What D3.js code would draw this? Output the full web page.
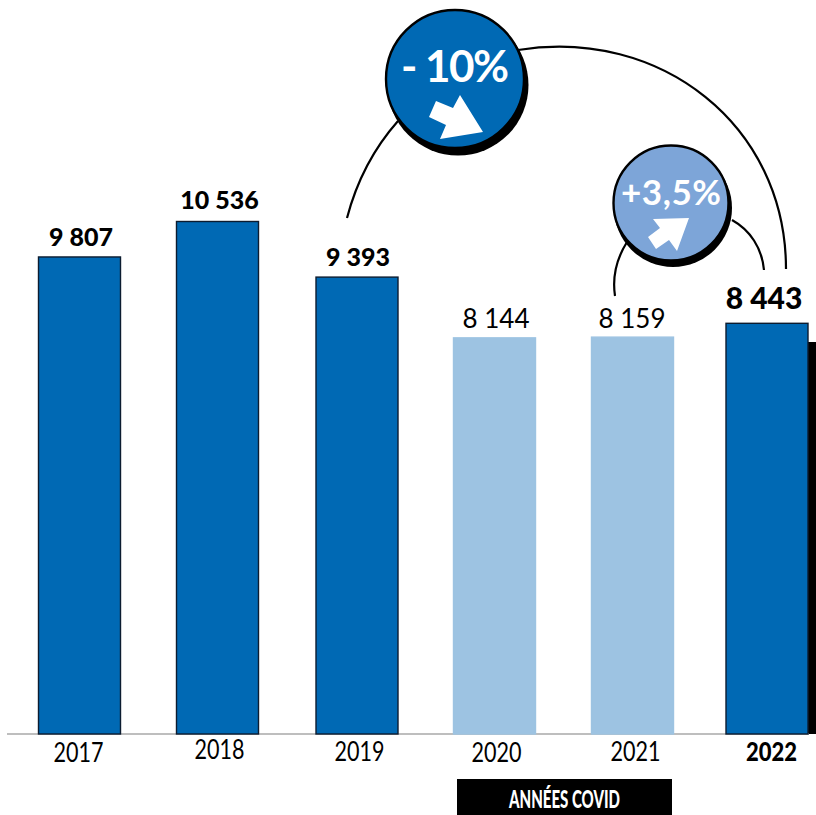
<!DOCTYPE html>
<html lang="fr">
<head>
<meta charset="utf-8">
<title>Évolution 2017-2022</title>
<script src="https://cdn.jsdelivr.net/npm/d3@7"></script>
<style>
  html, body { margin: 0; padding: 0; background: #fff; }
  svg { display: block; }
  text { font-family: Lato, "Open Sans", sans-serif; }
</style>
</head>
<body>
<svg id="chart" width="816" height="815"></svg>
<script>
const years = ["2017", "2018", "2019", "2020", "2021", "2022"];
const totals = [9807, 10536, 9393, 8144, 8159, 8443];
const covidYears = ["2020", "2021"];
const highlightYear = "2022";
const boldValueYears = ["2017", "2018", "2019", "2022"];
const covidLabel = "ANNÉES COVID";
const declineLabel = "- 10%";
const reboundLabel = "+3,5%";

const DARK = "#0069b4", LIGHT = "#9dc3e2", SOFT = "#7da5d8", INK = "#000";
const baseline = 734;
const barWidth = 82;

const svg = d3.select("#chart");
const y = d3.scaleLinear().domain([0, 10536]).range([baseline, 221.5]);

// Bars are hand-spaced on the page, so the band is an ordinal lookup of left edges.
const x = d3.scaleOrdinal().domain(years).range([38.5, 176.5, 316, 453.5, 591.5, 726]);
const tickX = d3.scaleOrdinal().domain(years).range([78, 219, 359, 496, 635, 771]);
const tickBaseline = d3.scaleOrdinal().domain(years).range([762, 759, 761, 762, 761, 761]);
const valueX = d3.scaleOrdinal().domain(years).range([81, 219.5, 358, 496, 632, 764]);
const valueLift = d3.scaleOrdinal().domain(years).range([11, 13, 11, 10, 9, 14]);
const format = v => d3.format(",")(v).replace(",", " ");

const rows = years.map((year, i) => ({ year, value: totals[i] }));

// Black block that sits behind the last bar and runs off the page.
svg.append("rect")
  .attr("x", x(highlightYear) + barWidth)
  .attr("y", 342)
  .attr("width", 816 - x(highlightYear) - barWidth)
  .attr("height", baseline - 342)
  .attr("fill", INK);

svg.append("line")
  .attr("x1", 7).attr("x2", 809)
  .attr("y1", baseline).attr("y2", baseline)
  .attr("stroke", "#a9a9a9").attr("stroke-width", 1.6);

svg.append("g").selectAll("rect").data(rows).join("rect")
  .attr("x", d => x(d.year))
  .attr("y", d => y(d.value))
  .attr("width", barWidth)
  .attr("height", d => baseline - y(d.value))
  .attr("fill", d => covidYears.includes(d.year) ? LIGHT : DARK)
  .attr("stroke", d => covidYears.includes(d.year) ? LIGHT : "#0c1c30")
  .attr("stroke-width", 1.4);

// Value labels above the bars.
svg.append("g").selectAll("text").data(rows).join("text")
  .attr("x", d => valueX(d.year))
  .attr("y", d => y(d.value) - valueLift(d.year))
  .attr("text-anchor", "middle")
  .attr("font-size", d => d.year === highlightYear ? 30 : boldValueYears.includes(d.year) ? 25 : 26)
  .attr("font-weight", d => boldValueYears.includes(d.year) ? 900 : 400)
  .attr("fill", "#000")
  .text(d => format(d.value));

// Year labels come from a bottom axis, with its domain line removed.
const axis = svg.append("g")
  .call(d3.axisBottom(tickX).tickSize(0).tickPadding(0));
axis.select(".domain").remove();
axis.attr("font-family", null).attr("font-size", null);
axis.selectAll(".tick text")
  .attr("y", d => tickBaseline(d))
  .attr("dy", 0)
  .attr("font-size", 26)
  .attr("font-weight", d => d === highlightYear ? 900 : 400)
  .attr("fill", "#000")
  .attr("textLength", d => d === highlightYear ? 51 : 50)
  .attr("lengthAdjust", "spacingAndGlyphs");

// Caption under the two pandemic years.
svg.append("rect")
  .attr("x", 457).attr("y", 779).attr("width", 215).attr("height", 36)
  .attr("fill", INK);
svg.append("text")
  .attr("x", 564.5).attr("y", 808)
  .attr("text-anchor", "middle")
  .attr("font-size", 25)
  .attr("font-weight", 900)
  .attr("fill", "#fff")
  .attr("textLength", 111)
  .attr("lengthAdjust", "spacingAndGlyphs")
  .text(covidLabel);

// Curved connectors between the compared years and their badges.
function curve(x0, y0, cx1, cy1, cx2, cy2, x1, y1) {
  const p = d3.path();
  p.moveTo(x0, y0);
  p.bezierCurveTo(cx1, cy1, cx2, cy2, x1, y1);
  return p.toString();
}
const connectors = [
  curve(347, 218, 357, 180, 375, 147, 398, 121),
  curve(518, 50, 660, 27, 786, 125, 786, 269),
  curve(615, 296, 612, 276, 617, 258, 627, 242),
  curve(732, 220, 750, 230, 762, 248, 764, 270)
];
svg.append("g").selectAll("path").data(connectors).join("path")
  .attr("d", d => d)
  .attr("fill", "none")
  .attr("stroke", INK)
  .attr("stroke-width", 2.2);

// A badge is a shadowed disc holding a percentage and a direction arrow.
function badge({ cx, cy, r, fill, shadow, label, fontSize, labelY, labelWidth, arrow }) {
  const g = svg.append("g").attr("transform", `translate(${cx},${cy})`);
  g.append("circle")
    .attr("cx", shadow[0]).attr("cy", shadow[1]).attr("r", r + 1.5)
    .attr("fill", INK);
  g.append("circle")
    .attr("r", r)
    .attr("fill", fill)
    .attr("stroke", INK)
    .attr("stroke-width", 2.4);
  g.append("text")
    .attr("y", labelY)
    .attr("text-anchor", "middle")
    .attr("font-size", fontSize)
    .attr("font-weight", 700)
    .attr("fill", "#fff")
    .attr("textLength", labelWidth)
    .attr("lengthAdjust", "spacing")
    .text(label);
  g.append("path")
    .attr("d", d3.line()(arrow) + "Z")
    .attr("fill", "#fff");
}

badge({
  cx: 455, cy: 79, r: 69, fill: DARK, shadow: [3, 6],
  label: declineLabel, fontSize: 44, labelY: 3, labelWidth: 108,
  arrow: [[5, 16], [28, 53], [-15, 60], [-9, 46], [-26, 38], [-19, 22], [-2, 29]]
});
badge({
  cx: 671, cy: 203, r: 57.5, fill: SOFT, shadow: [2, 5],
  label: reboundLabel, fontSize: 35, labelY: 2, labelWidth: 100,
  arrow: [[18, 15], [6, 48], [-2, 37], [-15, 46], [-23, 34], [-11, 25], [-18, 16]]
});
</script>
</body>
</html>
